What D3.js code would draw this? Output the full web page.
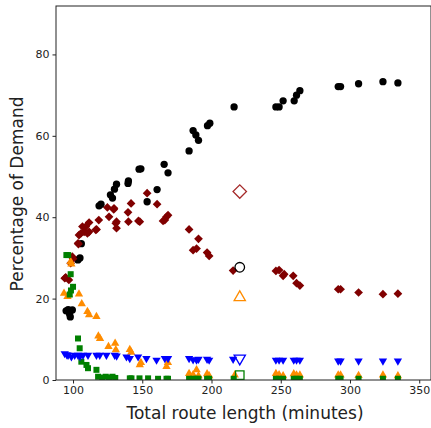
<!DOCTYPE html>
<html><head><meta charset="utf-8">
<script src="https://cdn.jsdelivr.net/npm/d3@7"></script>
<style>body{margin:0;background:#fff}svg{display:block}text{font-family:"DejaVu Sans",sans-serif;fill:#222}</style>
</head><body><div id="chart"></div>
<script>
const xTicks = [100,150,200,250,300,350];
const yTicks = [0,20,40,60,80];
const blackPts = [[95,17.0],[96.5,17.3],[99.5,17.2],[98,15.5],[97.5,16.2],[103.5,29.5],[105,30],[106,33.5],[118.8,42.8],[120.2,43.2],[127,45.5],[128.5,44.7],[129.9,46.9],[131.4,48.1],[139.7,48.3],[140,48.9],[147.7,51.8],[149,51.9],[153.5,43.8],[160.7,46.8],[165.8,53],[168.6,50.9],[183.8,56.3],[186.7,61.3],[188.7,60.2],[190.6,58.9],[197.1,62.5],[198.8,63.1],[216.3,67.1],[246.5,67.1],[248.8,67.1],[251.7,68.6],[259.7,68.6],[261.4,70],[263.8,71.1],[291.5,72.1],[293.2,72.1],[306.2,72.8],[323.8,73.3],[334.6,73.0]];
const redPts = [[94,25],[94.7,25.2],[97,24.6],[98.3,28.7],[99.5,30.3],[100,29.8],[103.6,33.6],[103.9,33.4],[104.3,35.6],[105.6,36],[106.8,37.7],[108,36.4],[109.2,37.7],[110.4,36],[111.6,38.7],[111.6,36.4],[116.4,36.9],[117,37],[118.6,39.3],[124.8,42.4],[126,40.1],[129.6,42.2],[129.4,41.9],[130.9,38.5],[131.4,37.3],[131.4,38.9],[139.7,41.2],[140,38.9],[141.9,43.4],[147.2,39.1],[148.2,38.9],[153.5,45.9],[160.7,43.2],[165,39.1],[166.3,39.3],[167.5,40.1],[168.6,40.5],[183.8,37],[186.7,31.9],[189.2,32.3],[190.6,34.7],[196.8,31.3],[198.3,30.5],[215.6,26.9],[246.5,26.8],[248.8,27],[251.7,25.6],[252.5,26],[259,25.6],[261.4,23.8],[263.8,23.2],[291.5,22.3],[293.2,22.3],[306.2,21.5],[323.8,21.1],[334.6,21.2]];
const orangePts = [[98.3,29.1],[98.8,28.5],[93.5,21.3],[96,20.5],[97,21],[104.3,21.1],[106.3,18.7],[110.4,16.8],[111.6,16],[116.9,15.6],[118.3,10.8],[119.5,10.2],[125.6,8.2],[130.4,9],[130.9,7.4],[141,7.5],[142,6.8],[148.2,3.7],[149,4.3],[167.5,3.3],[168.5,4.3],[183.8,1.6],[186.7,1.3],[189.2,2.5],[190.6,1.0],[196.8,1.5],[198.3,1.0],[216.8,1.2],[246.5,1.6],[248.8,1.3],[251.7,1.0],[259.4,1.5],[261.4,1.2],[263.8,1.2],[291.5,1.2],[293.2,1.2],[306.2,1.1],[323.8,1.2],[334.6,1.0]];
const greenPts = [[95.2,30.7],[96.5,30.7],[98.3,26],[100,22.9],[97.6,21],[98.5,22],[103.6,10.2],[104.8,7.8],[106,4.5],[109.7,3.7],[110.8,2.9],[116.9,2.5],[118.1,0.8],[121,0.6],[123.6,0.8],[126,0.6],[128.5,0.8],[130.5,0.5],[141,0.4],[142.2,0.4],[148,0.4],[154.2,0.4],[161.4,0.3],[167.5,0.3],[168.6,0.3],[183.8,0.3],[186.7,0.3],[189.2,0.3],[190.6,0.3],[196.8,0.3],[198.3,0.3],[216,0.3],[246.5,0.3],[248.8,0.3],[251.7,0.3],[259.4,0.3],[261.4,0.3],[263.8,0.3],[291.5,0.3],[293.2,0.3],[306.2,0.3],[323.8,0.3],[334.6,0.3]];
const bluePts = [[94,6.5],[95.5,6.2],[96.4,6.1],[98.8,5.7],[101.2,6.1],[103.6,6.1],[105,5.8],[107.2,6.1],[110.8,6.1],[116.9,6.1],[119.3,6.1],[124.1,6.1],[130.1,6.1],[131.5,5.9],[138.6,5.7],[141,5.3],[147,5.7],[153,5.3],[160.3,4.9],[166.3,5.3],[168.6,5.3],[183.8,5.3],[186.7,5.0],[189.2,4.9],[190.6,5.1],[196.8,5.1],[198.3,4.9],[215.6,5.1],[246.5,4.9],[248.8,4.9],[251.7,4.9],[259.4,4.9],[261.4,4.9],[263.8,4.9],[291.5,4.7],[293.2,4.7],[306.2,4.7],[323.8,4.7],[334.6,4.7]];
const refX = 220.4;
const refVals = {diamond:46.3, circle:27.7, triangle:20.3, down:5.3, square:1.2};

const W=431,H=428, L=56, T=6, R=431, B=380;
const x = d3.scaleLinear().domain([87.7,358.5]).range([L,R]);
const y = d3.scaleLinear().domain([0,91.9]).range([B,T]);
const svg = d3.select("#chart").append("svg").attr("width",W).attr("height",H);
svg.append("defs").append("clipPath").attr("id","clip").append("rect").attr("x",L).attr("y",T).attr("width",R-L).attr("height",B-T);
const g = svg.append("g").attr("clip-path","url(#clip)");

function sym(type,size){return d3.symbol().type(type).size(size)();}
function draw(pts,type,size,color,rot){
  g.append("g").selectAll("path").data(pts).join("path")
   .attr("d",sym(type,size))
   .attr("transform",d=>`translate(${x(d[0])},${y(d[1])}) rotate(${rot||0})`)
   .attr("fill",color);
}
draw(blackPts,d3.symbolCircle,42,"#000");
draw(redPts,d3.symbolSquare,38,"#800000",45);
draw(orangePts,d3.symbolTriangle,30,"#ff8c00");
draw(greenPts,d3.symbolSquare,36,"#008000");
draw(bluePts,d3.symbolTriangle,30,"#0000ff",180);

const hollow = [
 ["diamond",d3.symbolSquare,90,"#a52a2a",45],
 ["circle",d3.symbolCircle,72,"#000",0],
 ["triangle",d3.symbolTriangle,55,"#ff8c00",0],
 ["down",d3.symbolTriangle,55,"#0000ff",180],
 ["square",d3.symbolSquare,72,"#008000",0]
];
hollow.forEach(h=>{
  g.append("path").attr("d",sym(h[1],h[2]))
   .attr("transform",`translate(${x(refX)},${y(refVals[h[0]])}) rotate(${h[4]})`)
   .attr("fill","none").attr("stroke",h[3]).attr("stroke-width",1.3);
});

const xa = svg.append("g").attr("transform",`translate(0,${B})`).call(d3.axisBottom(x).tickValues(xTicks).tickSize(3.5).tickPadding(3));
const ya = svg.append("g").attr("transform",`translate(${L},0)`).call(d3.axisLeft(y).tickValues(yTicks).tickSize(3.5).tickPadding(3));
[xa,ya].forEach(a=>{a.select(".domain").remove();a.selectAll("text").attr("font-size",11).attr("fill","#222").attr("font-family","DejaVu Sans");a.selectAll("line").attr("stroke","#222");});
svg.append("rect").attr("x",L).attr("y",T).attr("width",R-L).attr("height",B-T).attr("fill","none").attr("stroke","#222").attr("stroke-width",1);

svg.append("text").attr("x",245).attr("y",419).attr("text-anchor","middle").attr("font-size",17).text("Total route length (minutes)");
svg.append("text").attr("transform",`translate(23,${(T+B)/2+1}) rotate(-90)`).attr("text-anchor","middle").attr("font-size",17).text("Percentage of Demand");
</script></body></html>
